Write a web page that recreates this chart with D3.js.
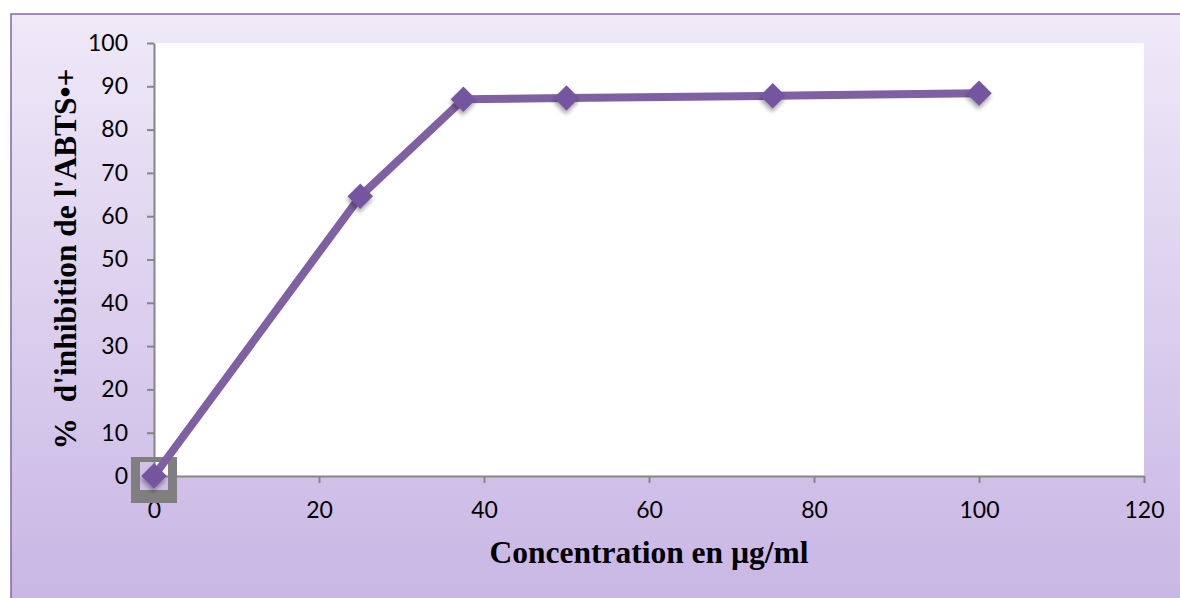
<!DOCTYPE html>
<html>
<head>
<meta charset="utf-8">
<script src="https://cdn.jsdelivr.net/npm/d3@7"></script>
<style>
  html, body { margin: 0; padding: 0; background: #fff; }
  svg { display: block; }
</style>
</head>
<body>
<div id="vis"></div>
<script>
// data
const concentrations = [0, 25, 37.5, 50, 75, 100];
const inhibition = [0, 64.6, 87.0, 87.3, 87.8, 88.4];
const xTicks = [0, 20, 40, 60, 80, 100, 120];
const yTicks = [0, 10, 20, 30, 40, 50, 60, 70, 80, 90, 100];

const width = 1180, height = 598;
const plot = { left: 154, top: 43, right: 1144, bottom: 476 };
const purple = "#7f60a2";

const svg = d3.select("#vis").append("svg")
  .attr("width", width)
  .attr("height", height);

const defs = svg.append("defs");
const grad = defs.append("linearGradient")
  .attr("id", "bg").attr("x1", 0).attr("y1", 0).attr("x2", 0).attr("y2", 1);
grad.append("stop").attr("offset", "0%").attr("stop-color", "#efe9f8");
grad.append("stop").attr("offset", "100%").attr("stop-color", "#c8b5e4");

const shadow = defs.append("filter").attr("id", "shadow")
  .attr("x", "-50%").attr("y", "-50%").attr("width", "200%").attr("height", "200%");
shadow.append("feDropShadow")
  .attr("dx", 2).attr("dy", 3).attr("stdDeviation", 2)
  .attr("flood-color", "#000").attr("flood-opacity", 0.35);

// chart frame
svg.append("rect")
  .attr("x", 11).attr("y", 14)
  .attr("width", width).attr("height", height)
  .attr("fill", "url(#bg)")
  .attr("stroke", "#8466a8")
  .attr("stroke-width", 1.5);

// plot area
svg.append("rect")
  .attr("x", plot.left).attr("y", plot.top)
  .attr("width", plot.right - plot.left)
  .attr("height", plot.bottom - plot.top)
  .attr("fill", "#fff");

const x = d3.scaleLinear().domain([0, 120]).range([plot.left, plot.right]);
const y = d3.scaleLinear().domain([0, 100]).range([plot.bottom, plot.top]);

const axisFont = "Lato, 'Open Sans', sans-serif";

const xAxis = svg.append("g")
  .attr("transform", `translate(0,${plot.bottom})`)
  .call(d3.axisBottom(x).tickValues(xTicks).tickSize(7).tickSizeOuter(0).tickPadding(19));

const yAxis = svg.append("g")
  .attr("transform", `translate(${plot.left},0)`)
  .call(d3.axisLeft(y).tickValues(yTicks).tickSize(7).tickSizeOuter(0).tickPadding(19));

[xAxis, yAxis].forEach((g) => {
  g.select(".domain").attr("stroke", "#868686").attr("stroke-width", 2);
  g.selectAll(".tick line").attr("stroke", "#868686").attr("stroke-width", 2);
  g.selectAll(".tick text")
    .attr("font-family", axisFont)
    .attr("font-size", 23)
    .attr("fill", "#000");
});

// grey selection box around the first point
const bx = x(0), by = y(0);
svg.append("path")
  .attr("fill", "#7f7f7f")
  .attr("fill-rule", "evenodd")
  .attr("d",
    `M${bx - 23},${by - 19}h46v46h-46z` +
    `M${bx - 14},${by - 14}v28h28v-28z`);

// line
const line = d3.line()
  .x((d, i) => x(concentrations[i]))
  .y((d) => y(d));

svg.append("path")
  .datum(inhibition)
  .attr("fill", "none")
  .attr("stroke", purple)
  .attr("stroke-width", 8)
  .attr("stroke-linejoin", "round")
  .attr("d", line);

// diamond markers
svg.append("g")
  .selectAll("path")
  .data(inhibition)
  .join("path")
  .attr("transform", (d, i) => `translate(${x(concentrations[i])},${y(d)}) rotate(45)`)
  .attr("d", "M-9,-9h18v18h-18z")
  .attr("fill", "#7455a0")
  .attr("filter", "url(#shadow)");

// axis titles
const titleFont = "'Liberation Serif', 'Times New Roman', serif";

svg.append("text")
  .attr("x", 649)
  .attr("y", 563)
  .attr("text-anchor", "middle")
  .attr("font-family", titleFont)
  .attr("font-weight", "bold")
  .attr("font-size", 31.5)
  .text("Concentration en µg/ml");

svg.append("text")
  .attr("transform", "translate(76,259) rotate(-90)")
  .attr("text-anchor", "middle")
  .attr("font-family", titleFont)
  .attr("font-weight", "bold")
  .attr("font-size", 31.5)
  .attr("xml:space", "preserve")
  .text("%  d'inhibition de l'ABTS•+");
</script>
</body>
</html>
